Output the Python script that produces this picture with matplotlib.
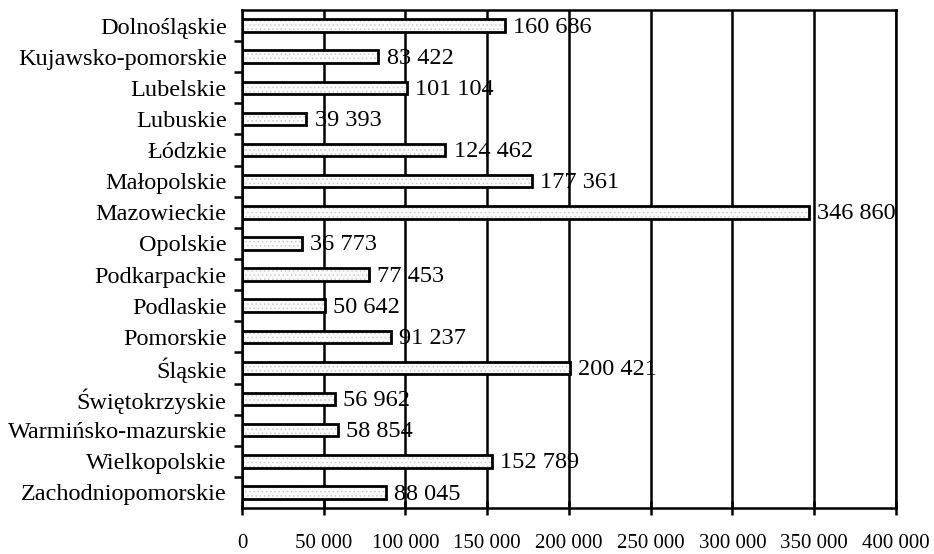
import matplotlib.pyplot as plt
import numpy as np

regions = ['Dolnośląskie', 'Kujawsko-pomorskie', 'Lubelskie', 'Lubuskie', 'Łódzkie',
           'Małopolskie', 'Mazowieckie', 'Opolskie', 'Podkarpackie', 'Podlaskie',
           'Pomorskie', 'Śląskie', 'Świętokrzyskie', 'Warmińsko-mazurskie',
           'Wielkopolskie', 'Zachodniopomorskie']
values = [160686, 83422, 101104, 39393, 124462, 177361, 346860, 36773,
          77453, 50642, 91237, 200421, 56962, 58854, 152789, 88045]
xticks = [0, 50000, 100000, 150000, 200000, 250000, 300000, 350000, 400000]


def fmt(v):
    return f'{v:,}'.replace(',', ' ')


plt.rcParams['font.family'] = ['Liberation Serif', 'DejaVu Serif']
plt.rcParams['hatch.linewidth'] = 0.6

fig = plt.figure(figsize=(9.34, 5.54), dpi=100)
ax = fig.add_axes([0.2591, 0.083, 0.7002, 0.899])

y = np.arange(len(regions))
ax.barh(y, values, height=0.4, color='#fafafa', edgecolor='#cccccc',
        hatch='....', linewidth=0, zorder=2)
ax.barh(y, values, height=0.4, color='none', edgecolor='black',
        linewidth=2, zorder=3)

# value labels a bit right of the bar end
for yi, v in zip(y, values):
    ax.text(v + 5000, yi + 0.05, fmt(v), va='center', ha='left', fontsize=17.5, zorder=4)

ax.set_xlim(0, 400000)
ax.set_ylim(len(regions) - 0.5, -0.5)
ax.set_xticks(xticks)
ax.set_xticklabels([fmt(t) for t in xticks], fontsize=15)
ax.grid(axis='x', color='black', linewidth=1.8, zorder=1)

ax.set_yticks(y)
ax.set_yticklabels(regions, fontsize=17.5)
ax.tick_params(axis='y', which='major', length=0, pad=11)
ax.set_yticks(np.arange(0.5, len(regions) - 0.5), minor=True)
ax.tick_params(axis='y', which='minor', length=6, width=1.8, direction='out')
ax.tick_params(axis='x', length=10, width=1.8, direction='inout', pad=14)

for s in ax.spines.values():
    s.set_linewidth(1.8)

fig.savefig('out.png', dpi=100)
